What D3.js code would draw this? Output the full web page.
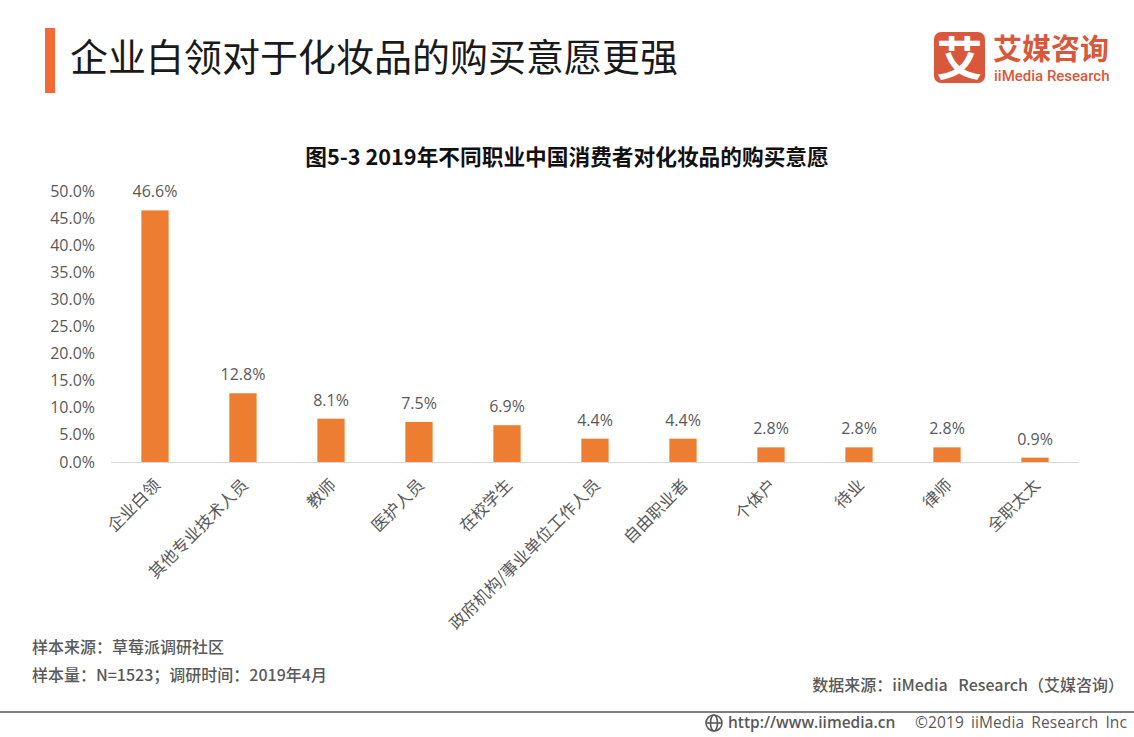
<!DOCTYPE html>
<html>
<head>
<meta charset="utf-8">
<script src="https://cdn.jsdelivr.net/npm/d3@7"></script>
<style>
html, body { margin: 0; padding: 0; background: #fff; }
text { font-family: "Noto Sans CJK SC", "Open Sans", sans-serif; }
</style>
</head>
<body>
<div id="chart"></div>
<script>
const categories = ["企业白领", "其他专业技术人员", "教师", "医护人员", "在校学生", "政府机构/事业单位工作人员", "自由职业者", "个体户", "待业", "律师", "全职太太"];
const values = [46.6, 12.8, 8.1, 7.5, 6.9, 4.4, 4.4, 2.8, 2.8, 2.8, 0.9];
const yTicks = [0, 5, 10, 15, 20, 25, 30, 35, 40, 45, 50];

const width = 1134;
const height = 737;
const orange = "#ed7d31";
const grey = "#595959";

const svg = d3.select("#chart")
    .append("svg")
    .attr("width", width)
    .attr("height", height)
    .style("display", "block");

// header
svg.append("rect").attr("x", 45).attr("y", 28).attr("width", 10).attr("height", 65).attr("fill", "#f26b35");
svg.append("text")
    .attr("x", 70).attr("y", 71)
    .attr("font-size", 38)
    .attr("font-weight", 400)
    .attr("fill", "#1a1a1a")
    .text("企业白领对于化妆品的购买意愿更强");

// logo
const logoColor = "#d9583b";
svg.append("rect").attr("x", 934).attr("y", 32).attr("width", 51).attr("height", 51).attr("rx", 7).attr("fill", logoColor);
svg.append("text")
    .attr("x", 959.5).attr("y", 75)
    .attr("text-anchor", "middle")
    .attr("font-size", 46)
    .attr("font-weight", 700)
    .attr("fill", "#fff")
    .text("艾");
svg.append("text")
    .attr("x", 993).attr("y", 60)
    .attr("font-size", 29)
    .attr("font-weight", 700)
    .attr("fill", logoColor)
    .text("艾媒咨询");
svg.append("text")
    .attr("x", 994).attr("y", 81)
    .attr("font-size", 15)
    .attr("font-weight", 500)
    .attr("fill", logoColor)
    .style("font-family", "Roboto")
    .text("iiMedia Research");

// chart title
svg.append("text")
    .attr("x", 567).attr("y", 165)
    .attr("text-anchor", "middle")
    .attr("font-size", 21.7)
    .attr("font-weight", 700)
    .attr("fill", "#111")
    .text("图5-3 2019年不同职业中国消费者对化妆品的购买意愿");

// scales
const x = d3.scaleBand().domain(categories).range([111, 1079]).paddingInner(0.69).paddingOuter(0.345);
const y = d3.scaleLinear().domain([0, 50]).range([462.5, 192]);

// y axis labels
const yAxis = svg.append("g")
    .attr("transform", "translate(95,-0.6)")
    .call(d3.axisLeft(y).tickValues(yTicks).tickSize(0).tickPadding(0).tickFormat(d => d.toFixed(1) + "%"));
yAxis.select(".domain").remove();
yAxis.selectAll("text")
    .attr("font-size", 16)
    .attr("fill", grey)
    .style("font-family", "'Open Sans', sans-serif");

// bars
svg.selectAll(".bar")
    .data(values)
    .enter().append("rect")
    .attr("class", "bar")
    .attr("x", (d, i) => x(categories[i]))
    .attr("y", d => y(d))
    .attr("width", x.bandwidth())
    .attr("height", d => y(0) - y(d))
    .attr("fill", orange);

// baseline
svg.append("line")
    .attr("x1", 111).attr("x2", 1079)
    .attr("y1", y(0)).attr("y2", y(0))
    .attr("stroke", "#d9d9d9");

// value labels
svg.selectAll(".val")
    .data(values)
    .enter().append("text")
    .attr("class", "val")
    .attr("x", (d, i) => x(categories[i]) + x.bandwidth() / 2)
    .attr("y", d => y(d) - 13)
    .attr("text-anchor", "middle")
    .attr("font-size", 16)
    .attr("fill", grey)
    .style("font-family", "'Open Sans', sans-serif")
    .text(d => d.toFixed(1) + "%");

// category labels, rotated
svg.selectAll(".cat")
    .data(categories)
    .enter().append("text")
    .attr("class", "cat")
    .attr("transform", d => `translate(${x(d) + x.bandwidth() / 2 + 3},483) rotate(-45)`)
    .attr("text-anchor", "end")
    .attr("dominant-baseline", "middle")
    .attr("font-size", 16.5)
    .attr("font-weight", 400)
    .attr("fill", grey)
    .text(d => d);

// notes
svg.append("text").attr("x", 32).attr("y", 653).attr("font-size", 16).attr("font-weight", 500).attr("fill", grey)
    .text("样本来源：草莓派调研社区");
svg.append("text").attr("x", 32).attr("y", 681).attr("font-size", 16).attr("font-weight", 500).attr("fill", grey)
    .text("样本量：N=1523；调研时间：2019年4月");
svg.append("text").attr("x", 1124).attr("y", 691).attr("text-anchor", "end").attr("font-size", 16).attr("font-weight", 500).attr("word-spacing", 7).attr("fill", grey)
    .text("数据来源：iiMedia Research（艾媒咨询）");

// footer
svg.append("line").attr("x1", 0).attr("x2", width).attr("y1", 712).attr("y2", 712).attr("stroke", "#7f7f7f").attr("stroke-width", 2);
const globe = svg.append("g").attr("transform", "translate(714,723)").attr("fill", "none").attr("stroke", "#595959").attr("stroke-width", 1.6);
globe.append("circle").attr("r", 8);
globe.append("ellipse").attr("rx", 3.5).attr("ry", 8);
globe.append("line").attr("x1", -8).attr("x2", 8);
svg.append("text").attr("x", 728).attr("y", 728).attr("font-size", 15.5).attr("font-weight", 600).attr("fill", grey)
    .style("font-family", "'Open Sans', sans-serif")
    .text("http://www.iimedia.cn");
svg.append("text").attr("x", 915).attr("y", 728).attr("font-size", 15.5).attr("font-weight", 500).attr("letter-spacing", 0.1).attr("word-spacing", 3).attr("fill", grey)
    .style("font-family", "'Open Sans', sans-serif")
    .text("©2019 iiMedia Research Inc");
</script>
</body>
</html>
